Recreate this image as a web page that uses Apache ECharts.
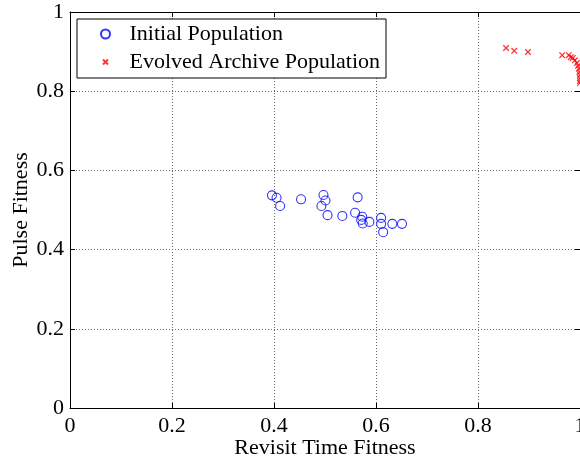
<!DOCTYPE html>
<html>
<head>
<meta charset="utf-8">
<script src="https://cdn.jsdelivr.net/npm/echarts@6/dist/echarts.min.js"></script>
<style>html,body{margin:0;padding:0;background:#fff;overflow:hidden;width:580px;height:461px;}#c{width:580px;height:461px;}</style>
</head>
<body>
<div id="c"></div>
<script>
var xTicks = [0, 0.2, 0.4, 0.6, 0.8, 1];
var yTicks = [0, 0.2, 0.4, 0.6, 0.8, 1];
var initialX = [0.396, 0.405, 0.412, 0.453, 0.497, 0.501, 0.493, 0.505, 0.534, 0.564, 0.559, 0.573, 0.571, 0.574, 0.587, 0.610, 0.610, 0.614, 0.632, 0.651];
var initialY = [0.537, 0.531, 0.510, 0.527, 0.538, 0.524, 0.510, 0.487, 0.485, 0.532, 0.493, 0.483, 0.475, 0.466, 0.470, 0.480, 0.465, 0.444, 0.465, 0.465];
var archiveX = [0.855, 0.871, 0.898, 0.965, 0.978, 0.982, 0.986, 0.990, 0.994, 0.996, 0.998, 0.999, 1.0, 1.0, 1.0, 1.0];
var archiveY = [0.909, 0.902, 0.899, 0.891, 0.891, 0.886, 0.884, 0.878, 0.871, 0.864, 0.856, 0.848, 0.841, 0.833, 0.826, 0.821];

function zip(a, b) { return a.map(function (v, i) { return [v, b[i]]; }); }
var FONT = "'Liberation Serif', 'Times New Roman', serif";
var xPath = 'path://M-4,-4M14,14M0,0L10,10M10,0L0,10';

var chart = echarts.init(document.getElementById('c'), null, {renderer: 'canvas', width: 580, height: 461});
chart.setOption({
  animation: false,
  backgroundColor: '#fff',
  textStyle: {fontFamily: FONT, color: '#000'},
  grid: {left: 70, right: 0, top: 12, bottom: 53, containLabel: false, outerBoundsMode: 'none'},
  legend: {
    orient: 'vertical', left: 77, top: 19,
    padding: [4, 6, 5, 23], itemGap: 6,
    itemWidth: 38, itemHeight: 9,
    borderColor: '#000', borderWidth: 1, backgroundColor: '#fff',
    textStyle: {fontFamily: FONT, fontSize: 22, color: '#000', lineHeight: 22},
    data: ['Initial Population', 'Evolved Archive Population']
  },
  xAxis: [{
    type: 'value', min: xTicks[0], max: xTicks[xTicks.length - 1], interval: 0.2,
    name: 'Revisit Time Fitness', nameLocation: 'middle', nameGap: 29, nameMoveOverlap: false,
    nameTextStyle: {fontFamily: FONT, fontSize: 22, color: '#000'},
    axisLine: {show: true, onZero: false, lineStyle: {color: '#000', width: 1}},
    axisTick: {show: true, inside: true, length: 5, lineStyle: {color: '#000'}},
    axisLabel: {fontFamily: FONT, fontSize: 22, color: '#000', margin: 7,
      formatter: function (v) { return String(Math.round(v * 10) / 10); }},
    splitLine: {show: true, lineStyle: {color: '#666', type: [1, 2], width: 1}}
  }, {
    type: 'value', position: 'top', min: 0, max: 1, interval: 0.2,
    axisLine: {show: true, onZero: false, lineStyle: {color: '#000', width: 1}},
    axisTick: {show: true, inside: true, length: 5, lineStyle: {color: '#000'}},
    axisLabel: {show: false}, splitLine: {show: false}
  }],
  yAxis: [{
    type: 'value', min: yTicks[0], max: yTicks[yTicks.length - 1], interval: 0.2,
    name: 'Pulse Fitness', nameLocation: 'middle', nameGap: 38, nameMoveOverlap: false,
    nameTextStyle: {fontFamily: FONT, fontSize: 22, color: '#000'},
    axisLine: {show: true, onZero: false, lineStyle: {color: '#000', width: 1}},
    axisTick: {show: true, inside: true, length: 5, lineStyle: {color: '#000'}},
    axisLabel: {fontFamily: FONT, fontSize: 22, color: '#000', margin: 6,
      formatter: function (v) { return String(Math.round(v * 10) / 10); }},
    splitLine: {show: true, lineStyle: {color: '#666', type: [1, 2], width: 1}}
  }, {
    type: 'value', position: 'right', min: 0, max: 1, interval: 0.2,
    axisLine: {show: true, onZero: false, lineStyle: {color: '#000', width: 1}},
    axisTick: {show: true, inside: true, length: 5, lineStyle: {color: '#000'}},
    axisLabel: {show: false}, splitLine: {show: false}
  }],
  series: [{
    name: 'Initial Population', type: 'scatter',
    symbol: 'circle', symbolSize: 9,
    itemStyle: {color: 'rgba(0,0,0,0)', borderColor: '#0000ff', borderWidth: 1.1},
    emphasis: {disabled: true},
    data: zip(initialX, initialY)
  }, {
    name: 'Evolved Archive Population', type: 'scatter',
    symbol: xPath, symbolSize: 10, clip: false,
    itemStyle: {color: 'rgba(0,0,0,0)', borderColor: '#ff0000', borderWidth: 1.3},
    emphasis: {disabled: true},
    data: zip(archiveX, archiveY)
  }]
});
</script>
</body>
</html>
